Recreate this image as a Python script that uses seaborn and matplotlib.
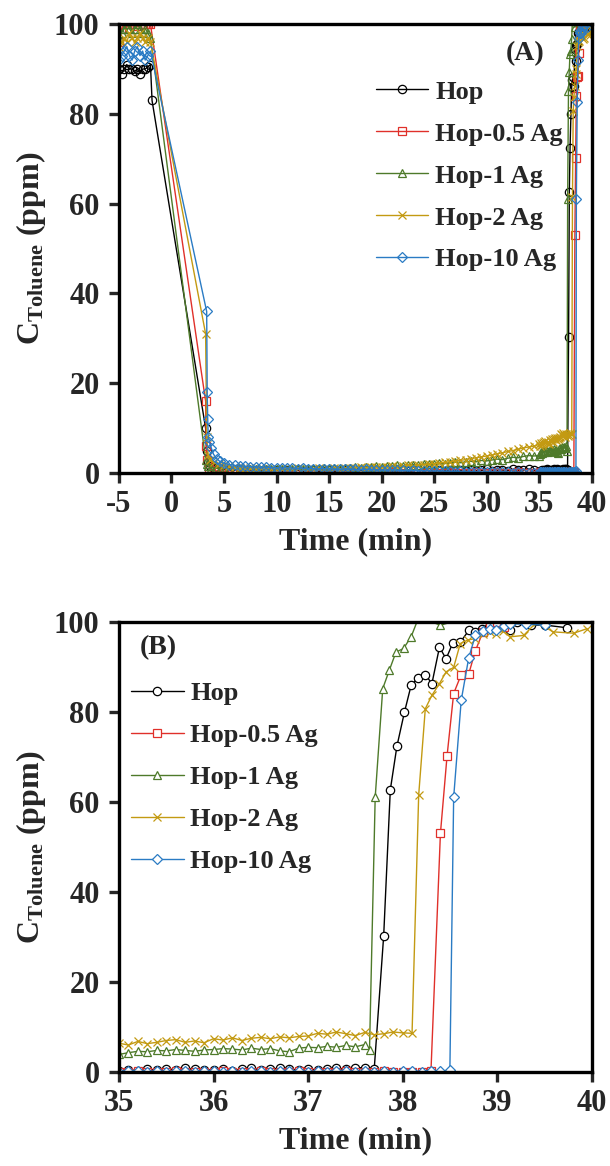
import pandas as pd
import matplotlib
matplotlib.use("Agg")
import matplotlib.pyplot as plt
import seaborn as sns

# ---- data ----
samples = ["Hop", "Hop-0.5 Ag", "Hop-1 Ag", "Hop-2 Ag", "Hop-10 Ag"]
colors = ["#000000", "#E0302A", "#4E7A2A", "#C39A12", "#2A7BC4"]
markers = ["o", "s", "^", "x", "D"]

# shared sampling times (min)
t_pre = [-5.0, -4.75, -4.5, -4.25, -4.0, -3.75, -3.5, -3.25, -3.0, -2.75, -2.5, -2.25, -2.0]
t_low = [5.0, 5.5, 6.0, 6.5, 7.0, 7.5, 8.0, 8.5, 9.0, 9.5,
         10.0, 10.5, 11.0, 11.5, 12.0, 12.5, 13.0, 13.5, 14.0, 14.5,
         15.0, 15.5, 16.0, 16.5, 17.0, 17.5, 18.0, 18.5, 19.0, 19.5,
         20.0, 20.5, 21.0, 21.5, 22.0, 22.5, 23.0, 23.5, 24.0, 24.5,
         25.0, 25.5, 26.0, 26.5, 27.0, 27.5, 28.0, 28.5, 29.0, 29.5,
         30.0, 30.5, 31.0, 31.5, 32.0, 32.5, 33.0, 33.5, 34.0, 34.5]
t_base = [35.0, 35.1, 35.2, 35.3, 35.4, 35.5, 35.6, 35.7, 35.8, 35.9,
          36.0, 36.1, 36.2, 36.3, 36.4, 36.5, 36.6, 36.7, 36.8, 36.9,
          37.0, 37.1, 37.2, 37.3, 37.4, 37.5, 37.6, 37.7, 37.8, 37.9,
          38.0, 38.1, 38.2, 38.3, 38.4, 38.5]

# Hop
hop_pre = [90, 89, 90, 91, 90, 90, 89.5, 90, 89, 90, 90, 90.5, 91]
hop_drop_t = [-1.85, 3.25, 3.35, 3.5, 3.7, 4.0, 4.5]
hop_drop = [83, 10, 5, 2.5, 1.5, 1.2, 1.0]
hop_low = [0.9, 0.7, 0.6, 0.8, 0.5, 0.7, 0.6, 0.4, 0.7, 0.5,
           0.6, 0.4, 0.6, 0.5, 0.7, 0.4, 0.5, 0.6, 0.4, 0.5,
           0.6, 0.4, 0.5, 0.7, 0.5, 0.4, 0.6, 0.5, 0.4, 0.6,
           0.5, 0.7, 0.4, 0.5, 0.6, 0.4, 0.5, 0.7, 0.5, 0.6,
           0.4, 0.6, 0.5, 0.7, 0.5, 0.6, 0.4, 0.7, 0.5, 0.6,
           0.8, 0.5, 0.6, 0.7, 0.5, 0.8, 0.6, 0.7, 0.9, 0.6]
hop_base = [0.2, 0.5, 0.3, 0.6, 0.4, 0.7, 0.5, 0.8, 0.6, 0.4, 0.5, 0.7, 0.3, 0.6,
            0.8, 0.5, 0.6, 0.9, 0.7, 0.4, 0.6, 0.5, 0.7, 0.8, 0.6, 0.9, 1.0, 0.7]
hop_rise_t = [37.80, 37.87, 37.94, 38.02, 38.09, 38.16, 38.24, 38.31, 38.39, 38.46, 38.53,
              38.61, 38.70, 38.77, 38.84, 38.91, 38.99, 39.06, 39.14, 39.21, 39.36, 39.51, 39.74]
hop_rise = [30.3, 62.7, 72.4, 80.0, 85.9, 87.6, 88.3, 86.3, 94.4, 91.8, 95.3,
            95.5, 98.1, 97.8, 98.5, 98.9, 100.0, 99.4, 98.1, 100.0, 99.3, 99.3, 98.7]

# Hop-0.5 Ag
ag05_pre = [96, 99, 100, 100, 99, 100, 100, 99.5, 100, 100, 100, 100, 100]
ag05_drop_t = [3.25, 3.3, 3.4, 3.6, 4.0, 4.5]
ag05_drop = [16, 6, 3, 1.2, 0.6, 0.4]
ag05_low = [0.3, 0.2, 0.1, 0.0, 0.1, -0.1, 0.0, 0.1, -0.2, 0.0,
            0.1, -0.1, 0.0, 0.2, -0.1, 0.0, 0.1, -0.2, 0.0, 0.1,
            0.0, 0.1, -0.1, 0.0, 0.2, 0.0, -0.1, 0.1, 0.0, 0.1,
            0.0, 0.1, 0.2, 0.0, 0.1, -0.1, 0.0, 0.1, 0.0, 0.2,
            0.1, 0.0, 0.1, 0.2, 0.0, 0.1, 0.0, 0.1, 0.2, 0.1,
            0.0, 0.1, 0.2, 0.1, 0.0, 0.1, 0.2, 0.1, 0.0, 0.1]
ag05_base = [0.1, 0.0, 0.2, 0.1, 0.0, 0.1, 0.2, 0.0, 0.1, 0.1, 0.0, 0.2, 0.1, 0.0, 0.1, 0.2, 0.1,
             0.0, 0.1, 0.2, 0.0, 0.1, 0.1, 0.0, 0.2, 0.1, 0.0, 0.1, 0.2, 0.1, 0.0, 0.1, 0.1, 0.2]
ag05_rise_t = [38.40, 38.47, 38.54, 38.62, 38.70, 38.77, 38.85, 38.92, 39.00, 39.07, 39.20, 39.40, 39.70]
ag05_rise = [53.0, 70.2, 84.1, 88.3, 88.5, 93.6, 97.8, 99.6, 100.0, 98.9, 101.0, 101.5, 101.0]

# Hop-1 Ag
ag1_pre = [97, 98, 99, 100, 99, 98, 99, 100, 99, 98, 99, 98, 97]
ag1_drop_t = [3.25, 3.35, 3.5, 3.8, 4.2, 4.6]
ag1_drop = [3.0, 2.0, 1.5, 1.2, 1.1, 1.0]
ag1_low = [1.0, 0.9, 0.8, 0.9, 0.7, 0.8, 0.9, 0.7, 0.8, 0.9,
           0.8, 0.9, 0.7, 0.9, 1.0, 0.8, 0.9, 1.0, 0.9, 1.1,
           1.0, 1.1, 0.9, 1.2, 1.1, 1.3, 1.2, 1.4, 1.3, 1.5,
           1.4, 1.6, 1.5, 1.7, 1.6, 1.8, 1.9, 1.8, 2.0, 2.1,
           2.0, 2.2, 2.1, 2.3, 2.4, 2.3, 2.5, 2.6, 2.5, 2.8,
           2.7, 2.9, 3.1, 3.0, 3.3, 3.5, 3.4, 3.7, 3.9, 3.8]
ag1_base = [3.9, 4.3, 4.6, 4.5, 4.8, 4.7, 5.0, 4.8, 4.6, 4.9, 5.0, 5.2, 5.1, 4.9,
            5.3, 5.0, 5.2, 4.7, 4.5, 5.3, 5.5, 5.4, 5.7, 5.5, 5.9, 5.6, 6.1]
ag1_rise_t = [37.65, 37.71, 37.79, 37.86, 37.93, 38.01, 38.09, 38.17, 38.40, 38.70, 39.10]
ag1_rise = [5.0, 61.0, 85.2, 89.3, 93.3, 94.1, 96.7, 101.0, 99.3, 101.0, 101.5]

# Hop-2 Ag
ag2_pre = [95, 96, 97, 96, 98, 97, 96, 97, 98, 97, 96, 97, 96]
ag2_drop_t = [3.25, 3.35, 3.5, 3.7, 4.0, 4.5]
ag2_drop = [31, 8, 4, 3, 2.5, 2.0]
ag2_low = [1.8, 1.5, 1.3, 1.2, 1.1, 1.2, 1.0, 1.1, 1.0, 0.9,
           1.0, 0.9, 1.0, 0.9, 1.1, 1.0, 0.9, 1.0, 1.1, 1.0,
           1.0, 1.1, 1.0, 1.2, 1.1, 1.2, 1.3, 1.2, 1.3, 1.4,
           1.3, 1.4, 1.5, 1.4, 1.6, 1.7, 1.6, 1.8, 1.9, 2.0,
           2.1, 2.2, 2.4, 2.5, 2.7, 2.8, 3.0, 3.2, 3.4, 3.6,
           3.8, 4.0, 4.3, 4.5, 4.8, 5.0, 5.3, 5.6, 5.8, 6.0]
ag2_base = [6.4, 6.0, 6.8, 6.3, 6.6, 7.0, 7.2, 6.6, 6.9, 6.5, 7.4, 7.1, 7.6, 7.0, 7.5, 7.7,
            7.4, 7.8, 7.6, 7.9, 8.0, 8.6, 8.4, 8.9, 8.5, 8.1, 8.8, 8.3, 8.5, 8.9, 8.7, 8.6]
ag2_rise_t = [38.17, 38.24, 38.31, 38.39, 38.46, 38.54, 38.61, 38.69, 38.77, 38.85,
              38.92, 38.99, 39.06, 39.14, 39.28, 39.42, 39.59, 39.81, 39.95]
ag2_rise = [61.5, 80.7, 83.7, 86.3, 88.9, 89.9, 95.2, 96.0, 96.3, 97.4,
            97.8, 97.4, 98.0, 96.7, 97.0, 100.0, 97.8, 97.5, 98.5]

# Hop-10 Ag
ag10_pre = [92, 93, 94, 95, 93, 92, 94, 95, 93, 94, 92, 93, 94]
ag10_drop_t = [3.35, 3.4, 3.45, 3.5, 3.6, 3.8, 4.0, 4.3, 4.6]
ag10_drop = [36, 18, 12, 8, 7, 5.5, 4.2, 3.2, 2.6]
ag10_low = [2.2, 1.9, 1.7, 1.6, 1.5, 1.4, 1.4, 1.3, 1.3, 1.2,
            1.2, 1.1, 1.2, 1.1, 1.0, 1.1, 1.0, 1.0, 0.9, 1.0,
            0.9, 0.9, 0.8, 0.9, 0.8, 0.8, 0.7, 0.8, 0.7, 0.7,
            0.7, 0.6, 0.7, 0.6, 0.6, 0.5, 0.6, 0.5, 0.5, 0.5,
            0.4, 0.5, 0.4, 0.4, 0.3, 0.4, 0.3, 0.3, 0.3, 0.2,
            0.3, 0.2, 0.2, 0.3, 0.2, 0.1, 0.2, 0.1, 0.1, 0.1]
ag10_base = [0.1, 0.2, 0.3, 0.1, 0.2, 0.0, 0.2, 0.3, 0.1, 0.2, 0.3, 0.1, 0.2, 0.0, 0.3, 0.2, 0.1, 0.2,
             0.3, 0.2, 0.0, 0.2, 0.1, 0.3, 0.2, 0.1, 0.2, 0.1, 0.2, 0.1, 0.2, 0.2, 0.1, 0.3, 0.2, 0.4]
ag10_rise_t = [38.54, 38.62, 38.70, 38.77, 38.85, 38.92, 38.99, 39.07, 39.14, 39.30, 39.51, 39.70]
ag10_rise = [61.0, 82.6, 92.1, 97.0, 98.0, 98.5, 98.1, 99.0, 99.6, 99.5, 99.3, 100.8]


def build_series(pre, drop_t, drop, low, base, rise_t, rise):
    t = t_pre + drop_t + t_low + t_base[:len(base)] + rise_t
    c = pre + drop + low + base + rise
    return pd.DataFrame({"Time": t, "C": c})


series = {
    "Hop": build_series(hop_pre, hop_drop_t, hop_drop, hop_low, hop_base, hop_rise_t, hop_rise),
    "Hop-0.5 Ag": build_series(ag05_pre, ag05_drop_t, ag05_drop, ag05_low, ag05_base, ag05_rise_t, ag05_rise),
    "Hop-1 Ag": build_series(ag1_pre, ag1_drop_t, ag1_drop, ag1_low, ag1_base, ag1_rise_t, ag1_rise),
    "Hop-2 Ag": build_series(ag2_pre, ag2_drop_t, ag2_drop, ag2_low, ag2_base, ag2_rise_t, ag2_rise),
    "Hop-10 Ag": build_series(ag10_pre, ag10_drop_t, ag10_drop, ag10_low, ag10_base, ag10_rise_t, ag10_rise),
}

# ---- style ----
sns.set_style("ticks")
plt.rcParams["font.family"] = ["Liberation Serif", "DejaVu Serif"]
plt.rcParams["font.weight"] = "bold"
plt.rcParams["axes.unicode_minus"] = False
plt.rcParams["mathtext.fontset"] = "custom"
plt.rcParams["mathtext.rm"] = "Liberation Serif:bold"
plt.rcParams["mathtext.bf"] = "Liberation Serif:bold"
plt.rcParams["mathtext.it"] = "Liberation Serif:bold"


def draw_panel(ax, xlim, xticks, tag, tag_xy, legend_anchor, face):
    for name, col, mk in zip(samples, colors, markers):
        df = series[name]
        ms = 5.0 if mk == "D" else 6.0
        sns.lineplot(data=df, x="Time", y="C", ax=ax, color=col, marker=mk,
                     markersize=ms, markerfacecolor=face, markeredgecolor=col,
                     markeredgewidth=0.9, linewidth=1.0, sort=False,
                     estimator=None, label=name)
    ax.set_xlim(*xlim)
    ax.set_ylim(0, 100)
    ax.set_xticks(xticks)
    ax.set_yticks([0, 20, 40, 60, 80, 100])
    ax.tick_params(axis="both", direction="out", length=7, width=2.4, labelsize=22)
    ax.tick_params(axis="y", pad=7)
    ax.tick_params(axis="x", pad=5)
    for sp in ax.spines.values():
        sp.set_linewidth(2.4)
        sp.set_color("black")
    ax.set_xlabel("Time (min)", fontsize=23, fontweight="bold", labelpad=6)
    ax.set_ylabel(r"C$_{\mathrm{Toluene}}$ (ppm)", fontsize=23, fontweight="bold", labelpad=4)
    ax.text(tag_xy[0], tag_xy[1], tag, transform=ax.transAxes, fontsize=20,
            fontweight="bold", ha="center", va="center")
    ax.legend(loc="upper left", bbox_to_anchor=legend_anchor, frameon=False,
              fontsize=19, handlelength=2.0, handletextpad=0.25,
              labelspacing=0.7, borderpad=0, borderaxespad=0)


fig = plt.figure(figsize=(6.1, 11.66), dpi=100)
ax_a = fig.add_axes([0.195, 0.5943, 0.775, 0.385])
ax_b = fig.add_axes([0.195, 0.0806, 0.775, 0.386])

draw_panel(ax_a, (-5, 40), list(range(-5, 41, 5)), "(A)", (0.86, 0.935), (0.543, 0.875), "none")
draw_panel(ax_b, (35, 40), [35, 36, 37, 38, 39, 40], "(B)", (0.083, 0.942), (0.025, 0.867), "white")

fig.savefig("out.png", dpi=100)
